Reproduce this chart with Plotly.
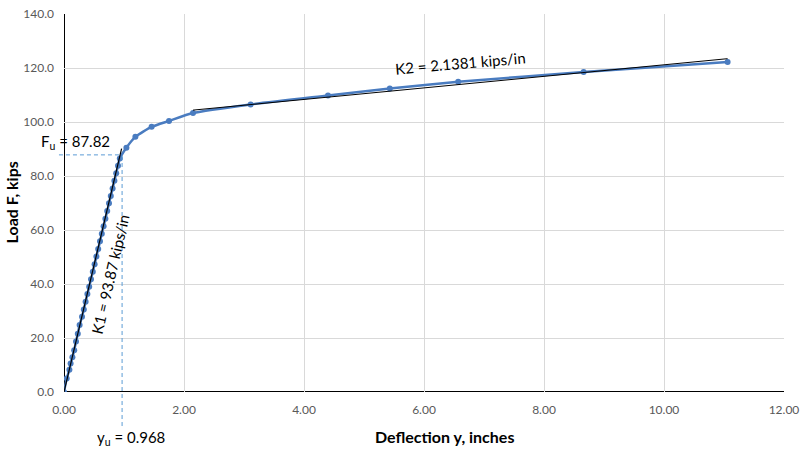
import plotly.graph_objects as go

# Load-deflection test data
defl = [0.00, 0.045, 0.09, 0.11, 0.14, 0.17, 0.20, 0.23, 0.26, 0.30, 0.33, 0.36,
        0.39, 0.42, 0.45, 0.48, 0.51, 0.54, 0.57, 0.60, 0.63, 0.66, 0.69, 0.72,
        0.75, 0.78, 0.81, 0.84, 0.87, 0.90, 0.93,
        1.04, 1.19, 1.46, 1.75, 2.15, 3.11, 4.40, 5.43, 6.57, 8.66, 11.06]
load = [0.0, 5.0, 8.2, 10.6, 12.9, 15.5, 18.7, 21.6, 24.8, 27.9, 30.6, 33.4,
        36.3, 39.0, 41.8, 44.5, 47.3, 50.2, 53.0, 55.8, 58.6, 61.4, 64.2, 67.0,
        69.9, 72.6, 75.4, 78.2, 81.0, 83.8, 86.5,
        90.5, 94.5, 98.2, 100.4, 103.3, 106.5, 109.8, 112.4, 114.9, 118.5, 122.2]

# Stiffness lines
k1_x = [0.0, 0.96]
k1_y = [0.0, 90.1]
k2_x = [2.15, 11.06]
k2_y = [104.4, 123.45]

Fu = 87.82
yu = 0.968

x_ticks = [0, 2, 4, 6, 8, 10, 12]
y_ticks = [0, 20, 40, 60, 80, 100, 120, 140]

FONT = "Lato"
BLUE = "#4a7cc0"

fig = go.Figure()
fig.add_trace(go.Scatter(x=defl, y=load, mode="lines+markers",
                         line=dict(color=BLUE, width=2.5, shape="spline", smoothing=0.6),
                         marker=dict(color=BLUE, size=6), showlegend=False))
fig.add_trace(go.Scatter(x=k1_x, y=k1_y, mode="lines",
                         line=dict(color="black", width=1.2), showlegend=False))
fig.add_trace(go.Scatter(x=k2_x, y=k2_y, mode="lines",
                         line=dict(color="black", width=1), showlegend=False))

# dashed guide lines
fig.add_shape(type="line", xref="paper", yref="y", x0=-0.007, x1=yu / 12, y0=Fu, y1=Fu,
              line=dict(color="#5b9bd5", width=1, dash="4px,3px"), layer="above")
fig.add_shape(type="line", xref="x", yref="paper", x0=yu, x1=yu, y0=-0.09, y1=Fu / 140,
              line=dict(color="#5b9bd5", width=1, dash="4px,3px"), layer="above")

fig.add_annotation(x=0, y=Fu, xref="paper", yref="y", xanchor="right", yanchor="bottom",
                   xshift=48, yshift=1, text="F<sub>u</sub> = 87.82", showarrow=False,
                   font=dict(family=FONT, size=15, color="black"))
fig.add_annotation(x=yu, y=0, xref="x", yref="paper", xanchor="center", yanchor="top",
                   xshift=9, yshift=-34, text="y<sub>u</sub> = 0.968", showarrow=False,
                   font=dict(family=FONT, size=15, color="black"))
fig.add_annotation(x=0.76, y=43.5, xref="x", yref="y", text="K1 = 93.87 kips/in",
                   textangle=-77, showarrow=False,
                   font=dict(family=FONT, size=15, color="black"))
fig.add_annotation(x=6.6, y=121.8, xref="x", yref="y", text="K2 = 2.1381 kips/in",
                   textangle=-5, showarrow=False,
                   font=dict(family=FONT, size=15, color="black"))

# axis titles
fig.add_annotation(x=448, y=437, xref="paper", yref="paper", text="<b>Deflection y, inches</b>",
                   xanchor="center", yanchor="middle",
                   showarrow=False, font=dict(family=FONT, size=16, color="black"))
fig.add_annotation(x=11, y=198, xref="paper", yref="paper", text="<b>Load F, kips</b>",
                   xanchor="center", yanchor="middle",
                   textangle=-90, showarrow=False, font=dict(family=FONT, size=16, color="black"))

fig.update_layout(
    width=805, height=451,
    margin=dict(l=64, r=15, t=6, b=59),
    paper_bgcolor="white", plot_bgcolor="white",
    font=dict(family=FONT, color="#595959", size=12),
    xaxis=dict(range=[0, 12], tickvals=x_ticks, tickformat=".2f",
               showgrid=True, gridcolor="#d9d9d9", gridwidth=1,
               zeroline=False, showline=False, ticks="", ticklabelstandoff=9,
               ticklabeloverflow="allow"),
    yaxis=dict(range=[0, 140], tickvals=y_ticks, tickformat=".1f",
               showgrid=True, gridcolor="#d9d9d9", gridwidth=1,
               zeroline=False, showline=False, ticks="", ticklabelstandoff=9,
               ticklabeloverflow="allow"),
)
# convert pixel-based title positions to paper fractions
pw, ph = 805 - 64 - 15, 451 - 6 - 59
for ann in fig.layout.annotations:
    if ann.xref == "paper" and ann.yref == "paper":
        ann.x = (ann.x - 64) / pw
        ann.y = (451 - 59 - ann.y) / ph

# axis lines at x=0 and y=0
fig.add_shape(type="line", xref="x", yref="y", x0=0, x1=0, y0=0, y1=140,
              line=dict(color="black", width=2), layer="below")
fig.add_shape(type="line", xref="x", yref="y", x0=0, x1=12, y0=0, y1=0,
              line=dict(color="black", width=2), layer="below")

fig.write_html("out.html")
